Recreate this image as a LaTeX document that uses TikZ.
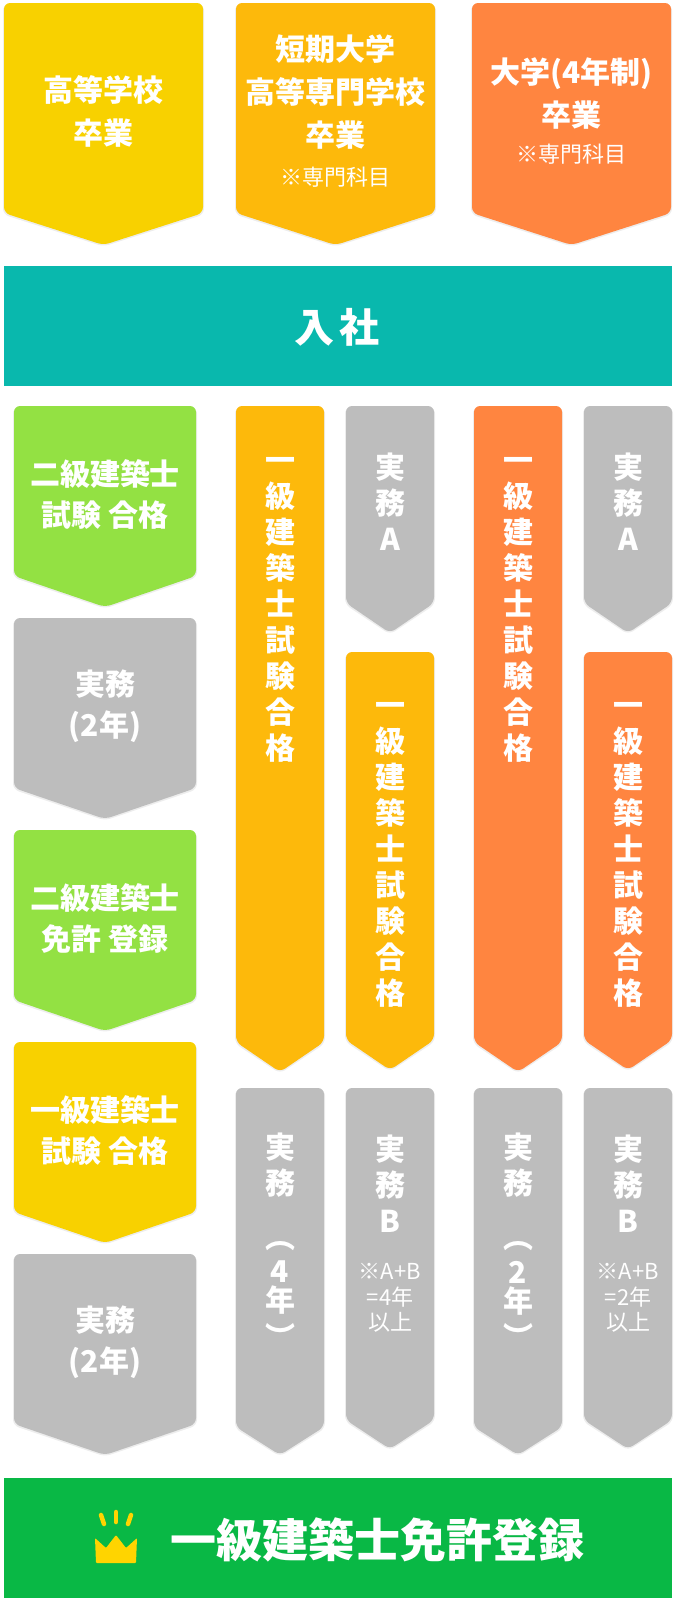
\documentclass[tikz,border=0pt]{standalone}
\usepackage{fontspec}
\setmainfont{Noto Sans CJK JP}
\usepackage{xcolor}
\usepackage{tikz}

\definecolor{kouyellow}{RGB}{248,209,0}
\definecolor{tanamber}{RGB}{253,185,11}
\definecolor{daiorange}{RGB}{255,133,64}
\definecolor{nyuteal}{RGB}{9,184,173}
\definecolor{nikyugreen}{RGB}{147,225,67}
\definecolor{jitsugray}{RGB}{189,189,189}
\definecolor{menkyogreen}{RGB}{9,184,69}
\definecolor{crowngold}{RGB}{255,212,0}

\newcommand{\chevron}[6]{%
	\fill[black,opacity=0.07,rounded corners=6,yshift=-1.5pt] ({(#2+#3)/2},#4) -- (#2-1,#4) -- (#2-1,#5) -- ({(#2+#3)/2},#6) -- (#3+1,#5) -- (#3+1,#4) -- cycle;
	\fill[#1,rounded corners=6] ({(#2+#3)/2},#4) -- (#2,#4) -- (#2,#5) -- ({(#2+#3)/2},#6) -- (#3,#5) -- (#3,#4) -- cycle;}

\begin{document}
\begin{tikzpicture}[x=1pt,y=-1pt,
	lbl/.style={text=white,inner sep=0pt,align=center,font=\bfseries\fontsize{30}{43}\selectfont},
	lblleft/.style={lbl,font=\bfseries\fontsize{30}{41}\selectfont},
	lblvert/.style={lbl,font=\bfseries\fontsize{30}{36}\selectfont},
	note/.style={text=white,inner sep=0pt,align=center,font=\fontsize{22}{26}\selectfont}]
		\useasboundingbox (0,0) rectangle (676,1598);

		\chevron{kouyellow}{4}{203}{3}{213}{245}
		\chevron{tanamber}{236}{435}{3}{213}{245}
		\chevron{daiorange}{472}{671}{3}{213}{245}
		\node[lbl] (koukou) at (103.5,111.5) {高等学校\\卒業};
		\node[lbl] (tandai) at (335.5,92) {短期大学\\高等専門学校\\卒業};
		\node[note] (tandainote) at (335.5,177) {※専門科目};
		\node[lbl] (daigaku) at (571.5,94) {大学(4年制)\\卒業};
		\node[note] (daigakunote) at (571.5,154) {※専門科目};

		\fill[nyuteal] (4,266) rectangle (672,386);
		\node[lbl,font=\bfseries\fontsize{40}{46}\selectfont] (nyusha) at (337,327) {入\hspace{0.12em}社};

		\chevron{nikyugreen}{14}{196}{406}{576}{607}
		\chevron{jitsugray}{14}{196}{618}{788}{819}
		\chevron{nikyugreen}{14}{196}{830}{1000}{1031}
		\chevron{kouyellow}{14}{196}{1042}{1212}{1243}
		\chevron{jitsugray}{14}{196}{1254}{1424}{1455}
		\node[lblleft] (nikyugoukaku) at (105,494) {二級建築士\\試験 合格};
		\node[lblleft] (jitsumu1) at (105,706) {実務\\(2年)};
		\node[lblleft] (nikyutouroku) at (105,918) {二級建築士\\免許 登録};
		\node[lblleft] (ikkyugoukaku) at (105,1130) {一級建築士\\試験 合格};
		\node[lblleft] (jitsumu2) at (105,1342) {実務\\(2年)};

		\chevron{tanamber}{236}{324}{406}{1042}{1072}
		\chevron{jitsugray}{346}{434}{406}{603}{633}
		\chevron{tanamber}{346}{434}{652}{1040}{1070}
		\chevron{daiorange}{474}{562}{406}{1042}{1072}
		\chevron{jitsugray}{584}{672}{406}{603}{633}
		\chevron{daiorange}{584}{672}{652}{1040}{1070}
		\node[lblvert] (tangoukaku) at (280,610) {一\\級\\建\\築\\士\\試\\験\\合\\格};
		\node[lblvert] (tanjitsuA) at (390,502) {実\\務\\A};
		\node[lblvert] (tangoukakuB) at (390,855) {一\\級\\建\\築\\士\\試\\験\\合\\格};
		\node[lblvert] (daigoukaku) at (518,610) {一\\級\\建\\築\\士\\試\\験\\合\\格};
		\node[lblvert] (daijitsuA) at (628,502) {実\\務\\A};
		\node[lblvert] (daigoukakuB) at (628,855) {一\\級\\建\\築\\士\\試\\験\\合\\格};

		\chevron{jitsugray}{236}{324}{1088}{1427}{1455}
		\chevron{jitsugray}{346}{434}{1088}{1420}{1449}
		\chevron{jitsugray}{474}{562}{1088}{1427}{1455}
		\chevron{jitsugray}{584}{672}{1088}{1420}{1449}
		\node[lblvert] (tanjitsu) at (280,1165.5) {実\\務};
		\node[lblvert] (tanopen) at (280,1246) {︵};
		\node[lblvert,font=\bfseries\fontsize{30}{29}\selectfont] (tannen) at (280,1288) {4\\年};
		\node[lblvert] (tanclose) at (280,1336) {︶};
		\node[lblvert] (tanjitsuB) at (390,1184) {実\\務\\B};
		\node[note,font=\fontsize{22}{25.5}\selectfont] (tannoteB) at (390,1298) {※A+B\\=4年\\以上};
		\node[lblvert] (daijitsu) at (518,1165.5) {実\\務};
		\node[lblvert] (daiopen) at (518,1246) {︵};
		\node[lblvert,font=\bfseries\fontsize{30}{29}\selectfont] (dainen) at (518,1288) {2\\年};
		\node[lblvert] (daiclose) at (518,1336) {︶};
		\node[lblvert] (daijitsuB) at (628,1184) {実\\務\\B};
		\node[note,font=\fontsize{22}{25.5}\selectfont] (dainoteB) at (628,1298) {※A+B\\=2年\\以上};

		\fill[menkyogreen] (4,1478) rectangle (672,1598);
		\fill[crowngold,rounded corners=1] (96,1563) -- (95,1538) -- (106,1548) -- (116,1535) -- (126,1548) -- (137,1538) -- (136,1563) -- cycle;
		\draw[crowngold,line width=4.5pt,line cap=round] (101,1515) -- (104,1524);
		\draw[crowngold,line width=4.5pt,line cap=round] (116,1512) -- (116,1522);
		\draw[crowngold,line width=4.5pt,line cap=round] (131,1515) -- (128,1524);
		\node[lbl,font=\bfseries\fontsize{46}{52}\selectfont] (menkyo) at (377,1540) {一級建築士免許登録};
	\end{tikzpicture}
\end{document}
